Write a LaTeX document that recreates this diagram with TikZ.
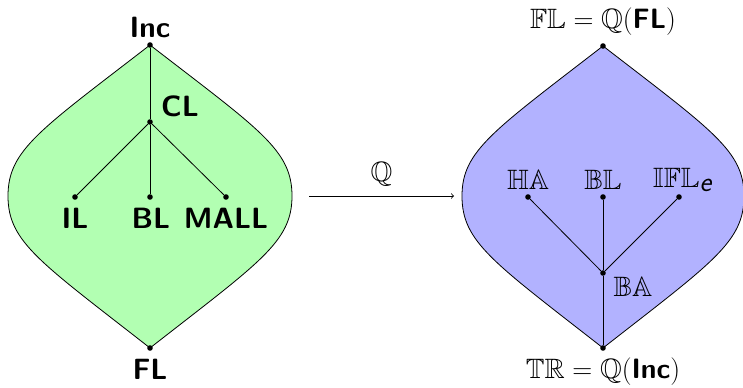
\documentclass[tikz,border=0pt]{standalone}
\usepackage{amssymb}
\begin{document}
\begin{tikzpicture}[x=0.75pt,y=-0.75pt,
  dot/.style={circle,fill=black,inner sep=0pt,minimum size=4.2pt},
  blab/.style={font=\sffamily\bfseries\fontsize{22}{24}\selectfont,inner sep=1pt},
  mlab/.style={font=\fontsize{21}{23}\selectfont,inner sep=1pt},
  lensline/.style={draw=black,line width=0.6pt},
  edge/.style={line width=0.6pt}]
\useasboundingbox (0,0) rectangle (743,388);
% left lens
\coordinate (inc) at (150,45);
\coordinate (fl) at (150,348);
\draw[lensline,fill=green!30] (inc) .. controls (40,130) and (8,150) .. (8,196)
  .. controls (8,242) and (40,262) .. (fl)
  .. controls (260,262) and (292,242) .. (292,196)
  .. controls (292,150) and (260,130) .. (inc) -- cycle;
\node[dot] (incd) at (inc) {};
\node[dot] (fld) at (fl) {};
\node[dot] (cl) at (150,122) {};
\node[dot] (il) at (75,197) {};
\node[dot] (bl) at (150,197) {};
\node[dot] (mall) at (226,197) {};
\draw[edge] (incd) -- (cl);
\draw[edge] (cl) -- (il);
\draw[edge] (cl) -- (bl);
\draw[edge] (cl) -- (mall);
\node[blab] (incl) at (150,27) {Inc};
\node[blab] (cll) at (180,106) {CL};
\node[blab] (ill) at (75,218) {IL};
\node[blab] (bll) at (151,218) {BL};
\node[blab] (malll) at (226,218) {MALL};
\node[blab] (fll) at (150,369) {FL};
% arrow
\coordinate (as) at (309,196);
\coordinate (ae) at (454,196);
\draw[edge,->] (as) -- node[mlab,above=6pt] (q) {$\mathbb{Q}$} (ae);
% right lens
\coordinate (rt) at (603,46);
\coordinate (rb) at (603,348);
\draw[lensline,fill=blue!30] (rt) .. controls (493,131) and (462,151) .. (462,196)
  .. controls (462,242) and (493,262) .. (rb)
  .. controls (713,262) and (744,242) .. (744,196)
  .. controls (744,151) and (713,131) .. (rt) -- cycle;
\node[dot] (rtd) at (rt) {};
\node[dot] (rbd) at (rb) {};
\node[dot] (ha) at (528,197) {};
\node[dot] (bbl) at (603,197) {};
\node[dot] (ifl) at (679,197) {};
\node[dot] (ba) at (603,273) {};
\draw[edge] (ha) -- (ba);
\draw[edge] (bbl) -- (ba);
\draw[edge] (ifl) -- (ba);
\draw[edge] (ba) -- (rbd);
\node[mlab] (hal) at (528,180) {$\mathbb{HA}$};
\node[mlab] (bbll) at (603,180) {$\mathbb{BL}$};
\node[mlab] (ifll) at (683,180) {$\mathbb{IFL}_{\textsf{\textit{e}}}$};
\node[mlab] (bal) at (633,287) {$\mathbb{BA}$};
\node[mlab] (top) at (603,22) {$\mathbb{FL}=\mathbb{Q}(\textsf{\textbf{FL}})$};
\node[mlab] (bot) at (603,372) {$\mathbb{TR}=\mathbb{Q}(\textsf{\textbf{Inc}})$};
\end{tikzpicture}
\end{document}
